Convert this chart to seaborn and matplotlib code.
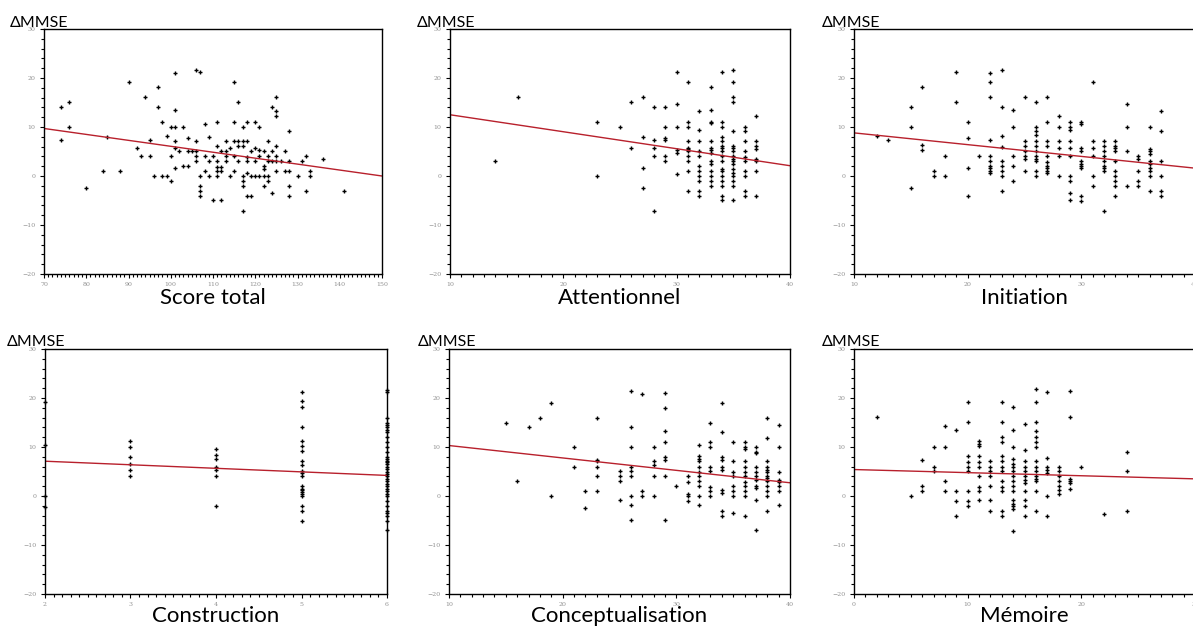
import numpy as np
import pandas as pd
import seaborn as sns
import matplotlib.pyplot as plt
from matplotlib.ticker import MultipleLocator


# Score total : (x, delta MMSE) pairs
score_total_x = [74, 76, 76, 74, 80, 84, 85, 88, 90, 92, 93, 94, 95, 95, 96, 97, 97, 98, 98, 99,
                 99, 100, 100, 100, 101, 101, 101, 101, 101, 101, 102, 103, 103, 104, 104, 105, 104, 106, 107, 106,
                 106, 106, 106, 107, 107, 107, 107, 108, 108, 108, 109, 109, 109, 110, 110, 111, 111, 111, 111, 111,
                 111, 112, 112, 112, 112, 113, 113, 113, 113, 114, 114, 115, 115, 115, 115, 115, 116, 116, 116, 116,
                 117, 117, 117, 117, 117, 117, 117, 118, 118, 118, 118, 118, 118, 119, 119, 119, 120, 120, 120, 120,
                 121, 121, 121, 121, 122, 122, 122, 122, 122, 123, 123, 123, 123, 123, 124, 124, 124, 124, 125, 125,
                 125, 125, 125, 125, 125, 126, 127, 127, 128, 128, 128, 128, 128, 130, 131, 132, 132, 133, 133, 136,
                 141]
score_total_y = [14.1, 15.1, 10.1, 7.4, -2.5, 1.0, 8.0, 1.0, 19.2, 5.8, 4.1, 16.2, 7.3, 4.1, 0, 18.1, 14.1, 11.1, 0, 0,
                 8.2, 10.1, 4.1, -1.1, 21.1, 13.5, 10.1, 7.1, 5.8, 1.7, 5.1, 10.1, 2.0, 2.0, 7.8, 5.1, 5.1, 21.7, 21.3, 7.2,
                 5.1, 4.1, 3.1, 0, -2.1, -3.1, -4.0, 10.6, 4.1, 1.0, 8.0, 3.1, 0, 4.1, -5.0, 11.1, 6.1, 3.1, 1.9, 1.0,
                 0, -5.0, 5.1, 1.9, 1.0, 7.1, 5.1, 4.1, 3.1, 0, 5.8, 19.2, 11.1, 7.1, 4.1, 1.0, 15.1, 7.1, 6.1, 3.1,
                 10.1, 7.1, 6.1, 0, -1.1, -2.1, -7.1, 11.1, 7.1, 3.9, 3.1, 0.7, -4.0, -4.0, 5.1, 0, 11.1, 5.8, 3.1, 0,
                 10.1, 5.4, 4.1, 0, 5.1, 2.0, 1.4, 0, -2.1, 7.1, 4.1, 3.1, 0, -1.1, 14.1, 5.1, 3.1, -3.5, 16.2, 13.2,
                 12.2, 6.1, 4.1, 3.1, 1.0, 3.1, 5.1, 1.0, 9.1, 3.1, 1.0, -2.1, -4.0, 0, 3.1, 4.1, -3.1, 1.0, 0, 3.5,
                 -3.1]

# sub-scores : score -> list of delta MMSE values
attentionnel = {
    14: [3.1], 16: [16.2], 23: [11.1, 0.1], 25: [10.1], 26: [15.1, 5.8],
    27: [16.2, 8.0, 1.7, -2.5], 28: [14.1, 7.3, 5.8, 4.1, -7.1],
    29: [14.1, 10.1, 7.7, 7.3, 4.1, 3.1], 30: [21.3, 14.6, 10.1, 5.3, 4.6, 0.5],
    31: [19.2, 11.1, 10.1, 7.1, 5.8, 5.5, 5.1, 4.1, 3.1, 1.0, -3.1],
    32: [13.2, 9.4, 7.1, 5.1, 4.1, 2.1, 1.0, 0, -1.1, -3.1, -4.0],
    33: [18.1, 13.5, 11.1, 10.8, 7.1, 5.8, 5.3, 4.6, 3.1, 2.4, 1.0, 0, -1.1, -2.1],
    34: [21.3, 11.1, 10.1, 8.0, 7.1, 6.1, 5.8, 5.1, 4.1, 3.1, 1.5, 1.0, 0, -1.1, -2.1, -4.0, -5.0],
    35: [21.7, 19.2, 16.2, 15.1, 9.1, 6.1, 5.8, 5.1, 4.1, 3.5, 3.1, 2.4, 1.4, 0.7, 0, -1.1, -2.1, -5.0],
    36: [10.1, 9.1, 7.1, 5.1, 3.9, 3.1, 1.0, 0, -3.1, -4.0],
    37: [12.2, 7.1, 6.1, 5.5, 3.5, 3.1, 1.0, -4.0],
}
initiation = {
    12: [8.1], 13: [7.4], 15: [14.1, 10.1, -2.5], 16: [18.1, 6.3, 5.3], 17: [1.0, 0],
    18: [4.1, 0], 19: [21.3, 15.1], 20: [11.1, 7.7, 1.7, -4.0], 21: [4.1],
    22: [21.1, 19.2, 16.2, 7.3, 4.1, 3.0, 2.0, 1.7, 1.0, 0.7],
    23: [21.7, 14.1, 8.1, 5.9, 3.0, 2.0, 1.0, 0, -3.1],
    24: [13.5, 10.1, 4.1, 2.1, -1.1],
    25: [16.2, 7.1, 6.1, 5.1, 4.1, 3.4, 1.0],
    26: [15.1, 10.1, 9.1, 8.4, 7.1, 6.1, 5.1, 4.1, 3.4, 3.0, 1.0, 0],
    27: [16.2, 11.1, 7.1, 6.1, 4.1, 2.8, 2.1, 1.7, 1.0, 0.7],
    28: [12.2, 10.1, 7.1, 5.8, 4.1, 0],
    29: [11.1, 10.1, 9.4, 7.1, 5.8, 4.1, 0, -1.1, -3.5, -5.0],
    30: [11.1, 10.6, 5.8, 5.1, 3.0, 2.4, 2.0, 1.6, -4.1, -5.2],
    31: [19.2, 7.1, 5.8, 4.1, 0, -2.1],
    32: [7.1, 6.1, 5.1, 4.1, 3.1, 2.0, 1.6, 1.0, -7.1],
    33: [7.1, 6.1, 5.8, 5.1, 3.1, 1.0, 0, -1.1, -2.1, -4.0],
    34: [14.6, 10.1, 5.1, -2.1],
    35: [4.1, 3.4, 1.0, -1.1, -2.1],
    36: [10.1, 5.6, 5.1, 4.4, 3.0, 2.4, 1.6, 1.0, 0, -3.1],
    37: [13.2, 9.1, 3.1, 0, -3.1, -4.0],
}
construction = {
    2: [19.2, 10.4, 0.1, -2.3],
    3: [11.2, 10.0, 7.9, 6.5, 5.4, 4.0],
    4: [9.5, 8.4, 7.5, 6.0, 5.4, 4.0, -2.0],
    5: [21.3, 19.3, 18.1, 14.1, 11.2, 10.2, 9.1, 7.2, 6.3, 5.1, 4.6, 4.0,
        2.0, 1.5, 1.2, 0.8, 0.5, 0, -2.0, -3.0, -5.1],
    6: [21.6, 21.3, 16.0, 15.0, 14.5, 14.0, 13.5, 13.0, 12.0, 11.0, 10.0, 9.0, 8.0, 7.5, 7.2, 7.0,
        6.5, 6.0, 5.5, 5.0, 4.5, 4.0, 3.5, 3.0, 2.5, 2.0, 1.5, 1.0, 0.5, 0, -1.0, -2.0,
        -3.0, -3.5, -4.0, -5.0, -7.0],
}
conceptualisation = {
    15: [14.9], 16: [3.1], 17: [14.0], 18: [15.9], 19: [18.9, 0], 21: [10.0, 5.9],
    22: [1.0, -2.4], 23: [15.9, 7.4, 7.2, 5.9, 4.1, 1.0], 25: [5.2, 4.1, 3.1, -0.9],
    26: [21.5, 14.0, 10.0, 5.9, 5.2, 4.1, 0, -1.9, -4.9], 27: [20.9, 1.0, 0],
    28: [10.0, 7.1, 6.4, 4.1, 0], 29: [21.0, 17.9, 13.3, 11.1, 7.9, 7.4, 4.1, -4.9],
    30: [2.0], 31: [4.1, 2.9, 0.5, 0, -1.0],
    32: [10.4, 8.1, 7.6, 7.1, 5.9, 5.0, 4.1, 3.1, 2.0, 0, -1.9],
    33: [14.9, 11.1, 10.0, 5.9, 5.2, 1.9, 1.0, 0],
    34: [18.9, 13.0, 8.0, 7.4, 5.9, 5.4, 1.2, 0.7, -3.0, -4.0],
    35: [11.1, 7.1, 5.0, 4.1, 2.0, 1.0, 0, -3.5],
    36: [11.1, 10.0, 9.5, 7.1, 5.9, 5.0, 4.1, 2.9, 2.0, 1.0, 0, -4.0],
    37: [10.0, 9.0, 8.8, 5.9, 5.0, 4.1, 3.3, 2.0, 1.7, -0.9, -7.0],
    38: [15.9, 11.9, 7.1, 5.9, 5.4, 5.0, 4.1, 3.6, 3.1, 2.0, 1.0, 0, -3.0],
    39: [14.4, 10.0, 5.0, 3.3, 2.9, 2.0, 1.0, -1.9],
}
memoire = {
    2: [16.1], 5: [-0.1], 6: [7.4, 2.0, 1.0], 7: [10.0, 6.0, 5.1],
    8: [14.2, 10.0, 3.0, 1.0], 9: [13.5, 1.0, -1.1, -4.1],
    10: [19.2, 15.2, 8.1, 7.0, 6.0, 5.1, 1.0, -1.1, -2.0],
    11: [11.2, 10.7, 10.2, 8.1, 7.0, 6.0, 4.0, 1.9, 1.0, -0.9],
    12: [7.2, 6.0, 5.1, 4.0, 2.0, -0.9, -3.0],
    13: [19.2, 15.2, 12.1, 11.1, 8.1, 7.2, 6.0, 5.1, 3.0, 1.9, 1.0, -3.0, -4.1],
    14: [18.1, 13.5, 10.0, 7.5, 6.5, 6.0, 5.1, 4.0, 3.0, 2.0, 1.0, -0.9, -1.6, -2.0, -2.7, -7.1],
    15: [14.6, 9.3, 7.2, 6.0, 5.1, 4.0, 3.2, 2.6, 1.0, -0.9, -2.0, -4.1],
    16: [21.8, 19.2, 15.2, 13.2, 12.1, 11.1, 10.0, 7.2, 6.0, 5.1, 4.0, 3.5, 3.0, 1.0, -3.0],
    17: [21.2, 7.7, 6.0, 5.4, 4.7, -0.1, -4.1],
    18: [6.0, 5.1, 4.0, 3.0, 2.0, 1.2, 0.5],
    19: [21.4, 16.1, 3.4, 3.0, 2.6, 1.5],
    20: [6.0], 22: [-3.6], 24: [8.9, 5.2, -3.0],
}

# fitted lines: value at left and right end of x axis
fit_score_total = [9.7, 0.0]
fit_attentionnel = [12.5, 2.1]
fit_initiation = [8.8, 1.6]
fit_construction = [7.1, 4.2]
fit_conceptualisation = [10.3, 2.7]
fit_memoire = [5.4, 3.5]


def expand(d):
    xs, ys = [], []
    for k, vals in d.items():
        xs += [k] * len(vals)
        ys += vals
    return pd.DataFrame({"x": xs, "y": ys})


panels = [
    ("Score total", pd.DataFrame({"x": score_total_x, "y": score_total_y}), (70, 150), 10, 1, fit_score_total),
    ("Attentionnel", expand(attentionnel), (10, 40), 10, 1, fit_attentionnel),
    ("Initiation", expand(initiation), (10, 40), 10, 1, fit_initiation),
    ("Construction", expand(construction), (2, 6), 1, 0.1, fit_construction),
    ("Conceptualisation", expand(conceptualisation), (10, 40), 10, 1, fit_conceptualisation),
    ("Mémoire", expand(memoire), (0, 30), 10, 1, fit_memoire),
]

# pixel boxes (left, top, width) of each plot frame, and label anchors
W, H = 1193, 637
boxes = [(44, 29, 338), (450, 29, 340), (854, 29, 341),
         (45, 349, 342), (449, 349, 341), (854, 349, 341)]
ylab_pos = [(10, 27), (417, 27), (822, 27), (7, 346), (418, 346), (822, 346)]
xlab_y = [298, 298, 298, 616, 616, 616]

sns.set_style("white")
plt.rcParams["font.family"] = ["Lato", "DejaVu Sans"]

fig = plt.figure(figsize=(W / 100, H / 100), dpi=100)
fig.patch.set_facecolor("white")

for i, (name, df, xlim, major, minor, fit) in enumerate(panels):
    l, t, w = boxes[i]
    ax = fig.add_axes([l / W, 1 - (t + 245) / H, w / W, 245 / H])
    ax.set_xlim(*xlim)
    ax.set_ylim(-20, 30)
    sns.scatterplot(data=df, x="x", y="y", marker="+", color="black",
                    s=10, linewidth=1.0, ax=ax, legend=False, clip_on=False)
    fit_df = pd.DataFrame({"x": list(xlim), "y": fit})
    sns.lineplot(data=fit_df, x="x", y="y", color="#b8202c", linewidth=1.0, ax=ax)
    ax.set_xlabel("")
    ax.set_ylabel("")
    ax.xaxis.set_major_locator(MultipleLocator(major))
    ax.xaxis.set_minor_locator(MultipleLocator(minor))
    ax.yaxis.set_major_locator(MultipleLocator(10))
    ax.yaxis.set_minor_locator(MultipleLocator(2))
    ax.tick_params(which="both", direction="out", color="black", width=0.8,
                   labelsize=4.5, labelcolor="#909090", pad=3)
    ax.tick_params(which="major", length=3)
    ax.tick_params(which="minor", length=2)
    for lab in ax.get_xticklabels() + ax.get_yticklabels():
        lab.set_family("DejaVu Serif")
    ax.tick_params(left=True, bottom=True, which="both")
    for sp in ax.spines.values():
        sp.set_color("black")
        sp.set_linewidth(1.0)
        sp.set_visible(True)

    cx = (l + w / 2) / W
    fig.text(cx, 1 - xlab_y[i] / H, name, ha="center", va="center", fontsize=16, color="black")
    px, py = ylab_pos[i]
    fig.text(px / W, 1 - py / H, "ΔMMSE", ha="left", va="baseline", fontsize=11.5, color="black")

fig.savefig("out.png", dpi=100, facecolor="white")
